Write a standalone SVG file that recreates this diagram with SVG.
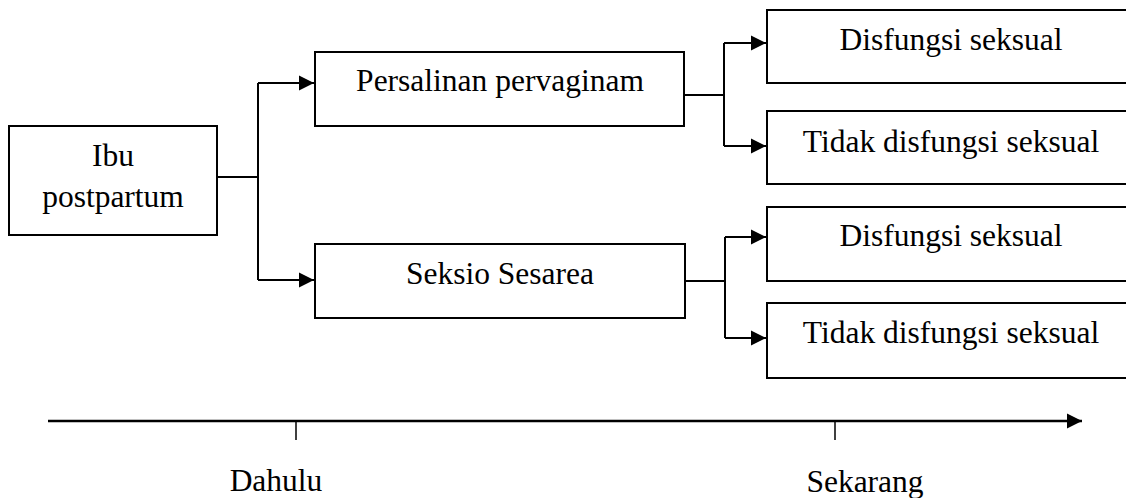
<svg xmlns="http://www.w3.org/2000/svg" width="1126" height="498" viewBox="0 0 1126 498">
<style>
.box{fill:#fff;stroke:#000;stroke-width:2}
.t{font-family:"Liberation Serif","Times New Roman",serif;font-size:31.5px;fill:#000;text-anchor:middle}
.c{fill:none;stroke:#000;stroke-width:2}
</style>
<defs>
<marker id="ah" markerUnits="userSpaceOnUse" markerWidth="16" markerHeight="16" viewBox="0 0 16 16" refX="15" refY="8" orient="auto">
<path d="M0,0.5 L15,8 L0,15.5 Z" fill="#000"/>
</marker>
</defs>
<rect width="1126" height="498" fill="#fff"/>
<g id="ibu">
<rect class="box" x="9" y="126" width="208" height="109"/>
<text class="t" x="113" y="166">Ibu</text>
<text class="t" x="113" y="207">postpartum</text>
</g>
<g id="persalinan">
<rect class="box" x="315" y="52" width="369" height="74"/>
<text class="t" x="500" y="91">Persalinan pervaginam</text>
</g>
<g id="seksio">
<rect class="box" x="315" y="244" width="370" height="74"/>
<text class="t" x="500" y="284">Seksio Sesarea</text>
</g>
<g id="disfungsi1">
<rect class="box" x="767" y="10" width="380" height="73"/>
<text class="t" x="951" y="50">Disfungsi seksual</text>
</g>
<g id="tidak1">
<rect class="box" x="767" y="111" width="380" height="73"/>
<text class="t" x="951" y="152">Tidak disfungsi seksual</text>
</g>
<g id="disfungsi2">
<rect class="box" x="767" y="207" width="380" height="74"/>
<text class="t" x="951" y="246">Disfungsi seksual</text>
</g>
<g id="tidak2">
<rect class="box" x="767" y="303" width="380" height="75"/>
<text class="t" x="951" y="343">Tidak disfungsi seksual</text>
</g>
<g id="connectors">
<path class="c" d="M217,177 H258"/>
<path class="c" d="M258,83 V280"/>
<path class="c" d="M258,83 H314" marker-end="url(#ah)"/>
<path class="c" d="M258,280 H314" marker-end="url(#ah)"/>
<path class="c" d="M684,95 H724"/>
<path class="c" d="M724,43 V146"/>
<path class="c" d="M724,43 H766" marker-end="url(#ah)"/>
<path class="c" d="M724,146 H766" marker-end="url(#ah)"/>
<path class="c" d="M685,281 H725"/>
<path class="c" d="M725,237 V338"/>
<path class="c" d="M725,237 H766" marker-end="url(#ah)"/>
<path class="c" d="M725,338 H766" marker-end="url(#ah)"/>
</g>
<g id="timeline">
<path d="M48,421 H1082" stroke="#000" stroke-width="2.5" fill="none" marker-end="url(#ah)"/>
<path d="M296,421 V440" stroke="#000" stroke-width="1.5"/>
<path d="M835,421 V440" stroke="#000" stroke-width="1.5"/>
<text class="t" x="276" y="491">Dahulu</text>
<text class="t" x="865" y="492">Sekarang</text>
</g>
</svg>
